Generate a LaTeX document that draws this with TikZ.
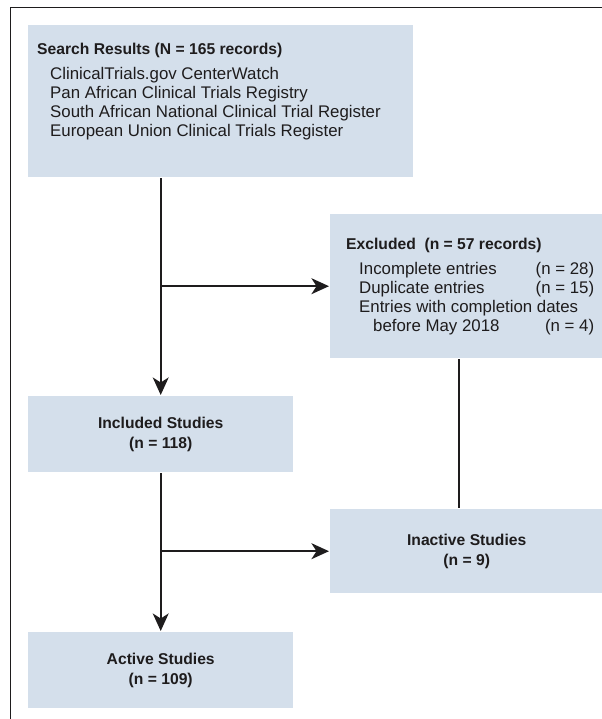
\documentclass[tikz,border=0pt]{standalone}
\usepackage{fontspec}
\setmainfont{Liberation Sans}
\usetikzlibrary{arrows.meta}

\definecolor{boxfill}{RGB}{212,223,235}
\definecolor{ink}{RGB}{30,28,29}

\newcommand{\boxhead}[1]{{\fontsize{9.4}{11.3}\selectfont\bfseries #1}}

\begin{document}
\begin{tikzpicture}[x=0.6pt, y=-0.6pt, line width=1.45pt, draw=ink, text=ink,
  every node/.style={font=\fontsize{10.1}{11.3}\selectfont, inner sep=0pt},
  box/.style={fill=boxfill, anchor=north west},
  sumbox/.style={box, align=center, font=\fontsize{9.4}{12}\selectfont\bfseries},
  flow/.style={-{Stealth[length=10.5pt, width=9.5pt, inset=3pt]}}]
  \useasboundingbox (0,0) rectangle (602,719);

  % frame (only top and left are shown)
  \draw[line width=0.9pt] (602,7.5) -- (10.5,7.5) -- (10.5,719);

  % boxes
  \node[box, minimum width=231pt, minimum height=91.2pt] (search) at (27,24) {};
  \node[box, minimum width=163.8pt, minimum height=86.4pt] (excl) at (329,213) {};
  \node[sumbox, minimum width=159pt, minimum height=45.6pt] (incl) at (27,395)
    {Included Studies\\(n = 118)};
  \node[sumbox, minimum width=163.8pt, minimum height=50.4pt] (inact) at (329,508)
    {Inactive Studies\\(n = 9)};
  \node[sumbox, minimum width=159pt, minimum height=45.6pt] (act) at (27,631)
    {Active Studies\\(n = 109)};

  % texts of the two list boxes
  \node[anchor=base west] (searchtxt) at (36,54.5) {%
    \begin{tabular}[t]{@{}l@{}}
      \boxhead{Search Results (N = 165 records)}\\[4pt]
      \hspace{7.8pt}ClinicalTrials.gov CenterWatch\\
      \hspace{7.8pt}Pan African Clinical Trials Registry\\
      \hspace{7.8pt}South African National Clinical Trial Register\\
      \hspace{7.8pt}European Union Clinical Trials Register
    \end{tabular}};
  \node[anchor=base west] (excltxt) at (345,249.5) {%
    \begin{tabular*}{148.8pt}[t]{@{}l@{\extracolsep{\fill}}r@{}}
      \multicolumn{2}{@{}l@{}}{\boxhead{Excluded\ \ (n = 57 records)}}\\[4pt]
      \hspace{7.8pt}Incomplete entries & (n = 28)\\
      \hspace{7.8pt}Duplicate entries & (n = 15)\\
      \multicolumn{2}{@{}l@{}}{\hspace{7.8pt}Entries with completion dates}\\
      \hspace{16.2pt}before May 2018 & (n = 4)
    \end{tabular*}};

  % connectors
  \draw[flow] (search.south -| incl.north) -- (incl.north);
  \draw[flow] (excl.west -| incl.north) -- (excl.west);
  \draw ([xshift=-4.5pt]excl.south) -- ([xshift=-4.5pt]inact.north);
  \draw[flow] (incl.south) -- (act.north);
  \draw[flow] (inact.west -| incl.south) -- (inact.west);
\end{tikzpicture}
\end{document}
